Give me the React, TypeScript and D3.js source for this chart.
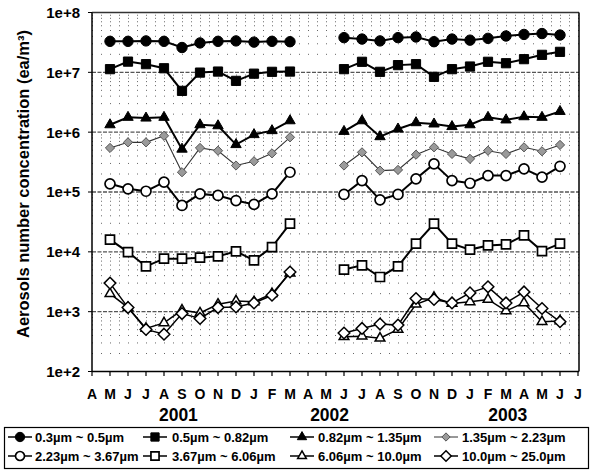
import React from "react";
import * as d3 from "d3";

const monthLabels = ["A","M","J","J","A","S","O","N","D","J","F","M","A","M","J","J","A","S","O","N","D","J","F","M","A","M","J","J"];
const yearLabels = ["2001", "2002", "2003"];
const yearCenters = [4.8, 13.2, 23.1];
const yTickValues = [1e2, 1e3, 1e4, 1e5, 1e6, 1e7, 1e8];
const yTickLabels = ["1e+2", "1e+3", "1e+4", "1e+5", "1e+6", "1e+7", "1e+8"];
const binLabels = [
  "0.3\u00b5m ~ 0.5\u00b5m",
  "0.5\u00b5m ~ 0.82\u00b5m",
  "0.82\u00b5m ~ 1.35\u00b5m",
  "1.35\u00b5m ~ 2.23\u00b5m",
  "2.23\u00b5m ~ 3.67\u00b5m",
  "3.67\u00b5m ~ 6.06\u00b5m",
  "6.06\u00b5m ~ 10.0\u00b5m",
  "10.0\u00b5m ~ 25.0\u00b5m",
];

const bin1 = [null, 3.3e7, 3.3e7, 3.35e7, 3.3e7, 2.6e7, 3.1e7, 3.3e7, 3.35e7, 3.2e7, 3.3e7, 3.25e7, null, null, 3.8e7, 3.6e7, 3.35e7, 3.8e7, 3.9e7, 3.25e7, 3.6e7, 3.45e7, 3.7e7, 4.05e7, 4.3e7, 4.45e7, 4.2e7, null];
const bin2 = [null, 1.13e7, 1.51e7, 1.37e7, 1.17e7, 4.9e6, 9.9e6, 1.03e7, 7.2e6, 9.5e6, 1.02e7, 1.03e7, null, null, 1.13e7, 1.5e7, 1.02e7, 1.32e7, 1.37e7, 8.4e6, 1.13e7, 1.25e7, 1.5e7, 1.42e7, 1.66e7, 1.96e7, 2.2e7, null];
const bin3 = [null, 1.33e6, 1.77e6, 1.72e6, 1.77e6, 5.2e5, 1.33e6, 1.28e6, 6.2e5, 9.1e5, 1.06e6, 1.55e6, null, null, 1.03e6, 1.55e6, 8.4e5, 1.13e6, 1.44e6, 1.37e6, 1.24e6, 1.33e6, 1.77e6, 1.6e6, 1.81e6, 1.77e6, 2.22e6, null];
const bin4 = [null, 5.45e5, 6.76e5, 6.76e5, 8.7e5, 2.14e5, 5.45e5, 4.9e5, 2.77e5, 3.26e5, 4.43e5, 8.2e5, null, null, 2.77e5, 4.6e5, 2.28e5, 2.34e5, 4.2e5, 5.58e5, 4.33e5, 3.58e5, 4.9e5, 4.33e5, 5.58e5, 4.79e5, 6.12e5, null];
const bin5 = [null, 1.37e5, 1.13e5, 1.03e5, 1.46e5, 5.96e4, 9.3e4, 8.75e4, 7.2e4, 6.2e4, 9.3e4, 2.14e5, null, null, 9.1e4, 1.55e5, 7.4e4, 9.1e4, 1.66e5, 2.95e5, 1.55e5, 1.4e5, 1.88e5, 1.88e5, 2.44e5, 1.77e5, 2.69e5, null];
const bin6 = [null, 1.6e4, 9.9e3, 5.7e3, 7.7e3, 7.7e3, 8.0e3, 8.4e3, 1.02e4, 7.2e3, 1.2e4, 2.95e4, null, null, 5.05e3, 5.96e3, 3.8e3, 5.7e3, 1.37e4, 2.95e4, 1.37e4, 1.09e4, 1.28e4, 1.33e4, 1.88e4, 1.03e4, 1.37e4, null];
const bin7 = [null, 2.0e3, 1.17e3, 5.25e2, 6.5e2, 1.06e3, 9.5e2, 1.33e3, 1.51e3, 1.46e3, 2.0e3, 4.4e3, null, null, 3.8e2, 3.9e2, 3.6e2, 5.05e2, 1.33e3, 1.73e3, 1.37e3, 1.46e3, 1.6e3, 1.03e3, 1.4e3, 6.8e2, 7.0e2, null];
const bin8 = [null, 3.0e3, 1.17e3, 5.05e2, 4.2e2, 9.3e2, 7.7e2, 1.17e3, 1.2e3, 1.4e3, 1.88e3, 4.6e3, null, null, 4.4e2, 5.25e2, 6.2e2, 5.96e2, 1.66e3, 1.6e3, 1.4e3, 2.06e3, 2.6e3, 1.4e3, 2.14e3, 1.13e3, 6.8e2, null];

type Style = { shape: string; fill: string; stroke: string; sw: number; lw: number; lc: string; r: number };
const styles: Style[] = [
  { shape: "circle", fill: "#000", stroke: "#000", sw: 1, lw: 2, lc: "#000", r: 5.2 },
  { shape: "square", fill: "#000", stroke: "#000", sw: 1, lw: 2, lc: "#000", r: 4.6 },
  { shape: "triangle", fill: "#000", stroke: "#000", sw: 1, lw: 2, lc: "#000", r: 6 },
  { shape: "diamond", fill: "#9a9a9a", stroke: "#555", sw: 1, lw: 1.1, lc: "#333", r: 4.6 },
  { shape: "circle", fill: "#fff", stroke: "#000", sw: 1.7, lw: 2, lc: "#000", r: 5 },
  { shape: "square", fill: "#fff", stroke: "#000", sw: 1.7, lw: 2, lc: "#000", r: 4.5 },
  { shape: "triangle", fill: "#fff", stroke: "#000", sw: 1.5, lw: 1.5, lc: "#000", r: 5.6 },
  { shape: "diamond", fill: "#fff", stroke: "#000", sw: 1.5, lw: 1.5, lc: "#000", r: 5.8 },
];
const seriesData = [bin1, bin2, bin3, bin4, bin5, bin6, bin7, bin8];

function markerPath(shape: string, r: number): string {
  if (shape === "circle") return `M${-r},0A${r},${r},0,1,0,${r},0A${r},${r},0,1,0,${-r},0Z`;
  if (shape === "square") return `M${-r},${-r}H${r}V${r}H${-r}Z`;
  if (shape === "diamond") return `M0,${-r}L${r},0L0,${r}L${-r},0Z`;
  const h = r * 1.5;
  const s = h / Math.sqrt(3);
  return `M0,${-h * 2 / 3}L${s},${h / 3}L${-s},${h / 3}Z`;
}

const FONT = "'Liberation Sans', Arial, Helvetica, sans-serif";

export default function App() {
  const W = 595, H = 472;
  const left = 92, right = 579, top = 12.5, bottom = 371.5;
  const x = d3.scaleLinear().domain([0, monthLabels.length - 1]).range([92, 578]);
  const y = d3.scaleLog().domain([1e2, 1e8]).range([bottom, top]);

  const minor: number[] = [];
  for (let n = 2; n < 8; n++) for (let k = 2; k <= 9; k++) minor.push(k * Math.pow(10, n));

  const line = d3
    .line<number | null>()
    .defined((d) => d != null)
    .x((_, i) => x(i))
    .y((d) => y(d as number));

  const legendCols = [20, 155, 302, 446];
  const legendTextX = [35, 172, 318, 462];
  const legendRows = [437, 456];

  return (
    <svg width={W} height={H} style={{ position: "absolute", left: 0, top: 0, background: "#fff" }} fontFamily={FONT}>
      <rect x={0} y={0} width={W} height={H} fill="#fff" />
      {/* minor grid */}
      {minor.map((v, i) => (
        <line key={"mn" + i} x1={left} x2={right} y1={y(v)} y2={y(v)} stroke="#666" strokeWidth={1} strokeDasharray="1,8" />
      ))}
      {/* major grid */}
      {yTickValues.slice(1, -1).map((v, i) => (
        <line key={"mj" + i} x1={left} x2={right} y1={y(v)} y2={y(v)} stroke="#555" strokeWidth={1.3} strokeDasharray="4,1.5" />
      ))}
      {/* frame */}
      <line x1={left} x2={right} y1={top} y2={top} stroke="#333" strokeWidth={1.3} />
      <line x1={right} x2={right} y1={top} y2={bottom} stroke="#000" strokeWidth={1.5} />
      <line x1={left} x2={left} y1={top} y2={bottom} stroke="#000" strokeWidth={1.5} />
      <line x1={left} x2={right} y1={bottom} y2={bottom} stroke="#000" strokeWidth={1.5} />
      {/* x ticks */}
      {monthLabels.map((m, i) => (
        <g key={"xt" + i}>
          <line x1={x(i)} x2={x(i)} y1={bottom} y2={bottom + 4.5} stroke="#000" strokeWidth={1.2} />
          <text x={x(i)} y={399} textAnchor="middle" fontSize={14} fontWeight="bold">{m}</text>
        </g>
      ))}
      {yearLabels.map((yl, i) => (
        <text key={"yr" + i} x={x(yearCenters[i])} y={421} textAnchor="middle" fontSize={17.5} fontWeight="bold">{yl}</text>
      ))}
      {/* y ticks */}
      {yTickValues.map((v, i) => (
        <g key={"yt" + i}>
          <line x1={left - 4} x2={left} y1={y(v)} y2={y(v)} stroke="#000" strokeWidth={1} />
          <text x={80} y={y(v)} dy="0.36em" textAnchor="end" fontSize={15} fontWeight="bold">{yTickLabels[i]}</text>
        </g>
      ))}
      <text transform="translate(23,184) rotate(-90)" textAnchor="middle" dy="0.36em" fontSize={16.5} fontWeight="bold">
        Aerosols number concentration (ea/m³)
      </text>
      {/* series */}
      {seriesData.map((data, si) => {
        const st = styles[si];
        return (
          <g key={"s" + si}>
            <path d={line(data) || ""} fill="none" stroke={st.lc} strokeWidth={st.lw} />
            {data.map((v, i) =>
              v == null ? null : (
                <path key={i} d={markerPath(st.shape, st.r)} transform={`translate(${x(i)},${y(v)})`} fill={st.fill} stroke={st.stroke} strokeWidth={st.sw} />
              )
            )}
          </g>
        );
      })}
      {/* legend */}
      <rect x={4.5} y={427.5} width={584} height={41} fill="#fff" stroke="#000" strokeWidth={1.2} />
      {binLabels.map((lab, i) => {
        const st = styles[i];
        const col = i % 4, row = Math.floor(i / 4);
        const cx = legendCols[col], cy = legendRows[row];
        return (
          <g key={"lg" + i}>
            <line x1={cx - 12} x2={cx + 12} y1={cy} y2={cy} stroke={st.lc} strokeWidth={st.lw === 1.1 ? 1 : 1.5} />
            <path d={markerPath(st.shape, st.r * 0.9)} transform={`translate(${cx},${cy})`} fill={st.fill} stroke={st.stroke} strokeWidth={st.sw} />
            <text x={legendTextX[col]} y={cy} dy="0.36em" fontSize={13} fontWeight="bold">{lab}</text>
          </g>
        );
      })}
    </svg>
  );
}
